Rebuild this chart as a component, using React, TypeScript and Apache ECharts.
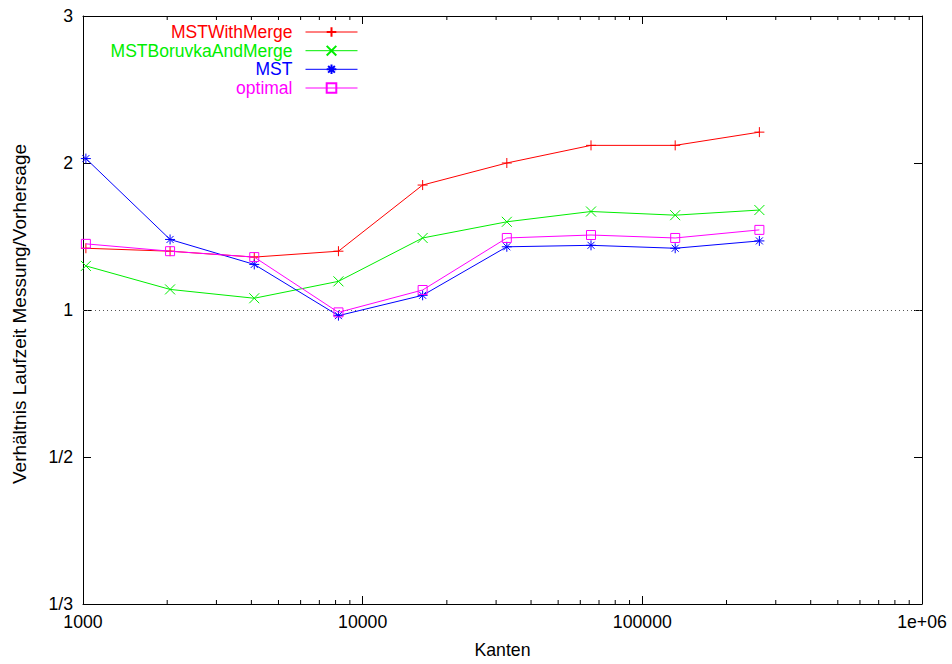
import React, { useEffect, useRef } from "react";
import * as echarts from "echarts";

const edges = [1024, 2048, 4096, 8192, 16384, 32768, 65536, 131072, 262144];
const mstWithMerge = [1.42, 1.4, 1.36, 1.4, 1.85, 2.0, 2.12, 2.12, 2.21];
const mstBoruvkaAndMerge = [1.3, 1.14, 1.08, 1.195, 1.49, 1.6, 1.67, 1.645, 1.68];
const mst = [2.03, 1.48, 1.31, 0.963, 1.1, 1.43, 1.44, 1.42, 1.47];
const optimal = [1.45, 1.4, 1.36, 0.984, 1.136, 1.49, 1.51, 1.49, 1.545];

const seriesNames = ["MSTWithMerge", "MSTBoruvkaAndMerge", "MST", "optimal"];
const yTickValues = [-2, -1, 0, 1, 2];
const yTickLabels = ["1/3", "1/2", "1", "2", "3"];
const xMinorTicks = [
  2000, 3000, 4000, 5000, 6000, 7000, 8000, 9000,
  20000, 30000, 40000, 50000, 60000, 70000, 80000, 90000,
  200000, 300000, 400000, 500000, 600000, 700000, 800000, 900000,
];

// ratio axis: 1 -> 0, 2 -> 1, 3 -> 2, 1/2 -> -1, 1/3 -> -2
const toAxis = (r: number) => (r >= 1 ? r - 1 : 1 - 1 / r);

const FONT = "'Liberation Sans', Arial, Helvetica, sans-serif";
const colors = ["#ff0000", "#00ee00", "#0000ff", "#ff00ff"];
const symbols = [
  "path://M5 0L5 10M0 5L10 5",
  "path://M0 0L10 10M10 0L0 10",
  "path://M5 0L5 10M0 5L10 5M1.5 1.5L8.5 8.5M8.5 1.5L1.5 8.5",
  "path://M0 0L10 0L10 10L0 10Z",
];
const values = [mstWithMerge, mstBoruvkaAndMerge, mst, optimal];
const legendRows = [33, 51.7, 70.3, 89];

export default function App() {
  const ref = useRef<HTMLDivElement>(null);
  useEffect(() => {
    if (!ref.current) return;
    const chart = echarts.init(ref.current, null, { renderer: "svg" });

    const lineSeries = seriesNames.map((name, i) => ({
      type: "line",
      name,
      xAxisIndex: 0,
      yAxisIndex: 0,
      data: edges.map((x, j) => [x, toAxis(values[i][j])]),
      symbol: symbols[i],
      symbolSize: i === 3 ? 9 : 10,
      showSymbol: true,
      lineStyle: { color: colors[i], width: 1 },
      itemStyle: { color: "rgba(0,0,0,0)", borderColor: colors[i], borderWidth: 1 },
      emphasis: { disabled: true },
      z: 3 + i,
      markLine:
        i === 0
          ? {
              silent: true,
              symbol: "none",
              label: { show: false },
              lineStyle: { type: [1, 3], color: "#555", width: 1 },
              data: [{ yAxis: 0 }],
              z: 1,
            }
          : undefined,
    }));

    const minorTickSeries = {
      type: "custom",
      name: "minorTicks",
      xAxisIndex: 0,
      yAxisIndex: 0,
      silent: true,
      data: xMinorTicks.map((v) => [v, 0]),
      encode: { x: 0, y: 1 },
      renderItem: (_params: any, api: any) => {
        const v = api.value(0);
        const b = api.coord([v, yTickValues[0]]);
        const t = api.coord([v, yTickValues[yTickValues.length - 1]]);
        return {
          type: "group",
          children: [
            { type: "line", shape: { x1: b[0], y1: b[1], x2: b[0], y2: b[1] - 4 }, style: { stroke: "#000", lineWidth: 1 } },
            { type: "line", shape: { x1: t[0], y1: t[1], x2: t[0], y2: t[1] + 4 }, style: { stroke: "#000", lineWidth: 1 } },
          ],
        };
      },
      z: 2,
    };

    const legends = seriesNames.map((name, i) => ({
      data: [name],
      orient: "vertical",
      right: 594,
      top: legendRows[i] - 10,
      align: "right",
      itemWidth: 52,
      itemHeight: 12,
      padding: 0,
      selectedMode: false,
      lineStyle: { width: 1 },
      textStyle: { color: colors[i], fontSize: 17.5, fontFamily: FONT, lineHeight: 16, padding: [0, 8, 0, 0] },
    }));

    const axisLine = { show: true, onZero: false, lineStyle: { color: "#000", width: 1 } };
    const axisTick = { show: true, inside: true, length: 8, lineStyle: { color: "#000", width: 1 } };
    const labelStyle = { color: "#000", fontSize: 17.7, fontFamily: FONT };

    chart.setOption({
      animation: false,
      backgroundColor: "#fff",
      grid: { left: 83, right: 30, top: 16, bottom: 59 },
      legend: legends,
      xAxis: [
        {
          type: "log",
          logBase: 10,
          min: 1000,
          max: 1000000,
          position: "bottom",
          name: "Kanten",
          nameLocation: "middle",
          nameGap: 37,
          nameTextStyle: labelStyle,
          axisLine,
          axisTick,
          splitLine: { show: false },
          axisLabel: {
            ...labelStyle,
            margin: 9,
            formatter: (v: number) => (v >= 1000000 ? "1e+06" : String(Math.round(v))),
          },
        },
        {
          type: "log",
          logBase: 10,
          min: 1000,
          max: 1000000,
          position: "top",
          axisLine,
          axisTick,
          splitLine: { show: false },
          axisLabel: { show: false },
        },
      ],
      yAxis: [
        {
          type: "value",
          min: -2,
          max: 2,
          interval: 1,
          position: "left",
          name: "Verhältnis Laufzeit Messung/Vorhersage",
          nameLocation: "middle",
          nameGap: 54,
          nameTextStyle: { ...labelStyle, fontSize: 19, padding: [0, 8, 0, 0] },
          axisLine,
          axisTick,
          splitLine: { show: false },
          axisLabel: {
            ...labelStyle,
            margin: 10,
            formatter: (v: number) => {
              const k = yTickValues.indexOf(Math.round(v));
              return k >= 0 ? yTickLabels[k] : "";
            },
          },
        },
        {
          type: "value",
          min: -2,
          max: 2,
          interval: 1,
          position: "right",
          axisLine,
          axisTick,
          splitLine: { show: false },
          axisLabel: { show: false },
        },
      ],
      series: [minorTickSeries, ...lineSeries],
    });
    return () => chart.dispose();
  }, []);

  return (
    <div
      ref={ref}
      style={{ position: "fixed", left: 0, top: 0, width: 952, height: 664, background: "#fff" }}
    />
  );
}
